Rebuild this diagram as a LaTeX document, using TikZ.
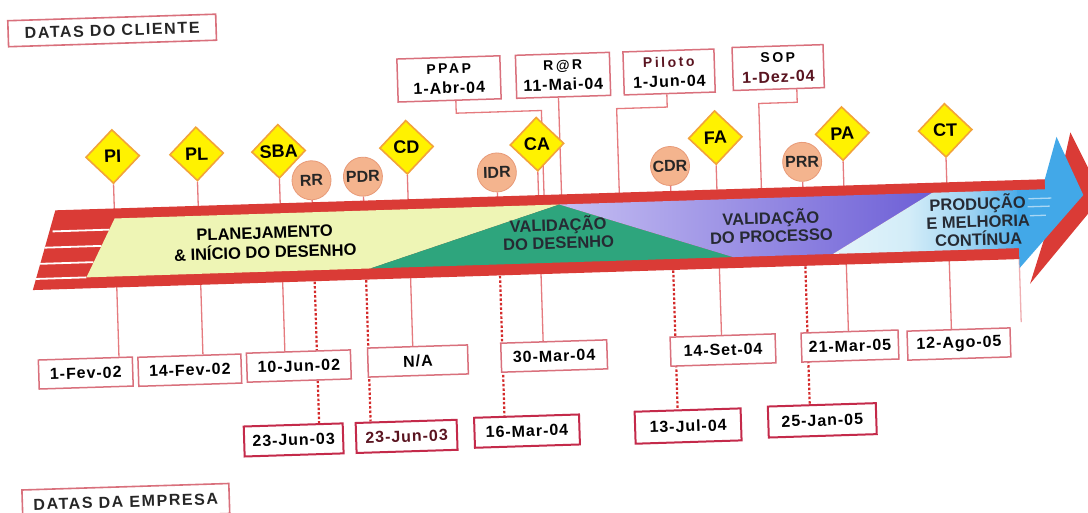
\documentclass[tikz,border=0pt]{standalone}
\usepackage{fontspec}
\setmainfont{Liberation Sans}
\newfontfamily\dfont{Liberation Sans}[LetterSpace=6]
\newfontfamily\lfont{Liberation Sans}[LetterSpace=18]
\newfontfamily\hfont{Liberation Sans}[LetterSpace=10]
\usetikzlibrary{shapes.geometric,calc}
\pgfdeclarelayer{bgl}
\pgfdeclarelayer{back}
\pgfsetlayers{bgl,back,main}
\definecolor{arred}{HTML}{DA3B36}
\definecolor{yel}{HTML}{EEF5B5}
\definecolor{grn}{HTML}{2EA57D}
\definecolor{lav}{HTML}{C5BEF2}
\definecolor{vio}{HTML}{6D5FD6}
\definecolor{pale}{HTML}{E3F4FA}
\definecolor{sky}{HTML}{42A8E8}
\colorlet{prodA}{pale!90!sky}
\colorlet{prodB}{pale!55!sky}
\definecolor{diafill}{HTML}{FFF200}
\definecolor{diaedge}{HTML}{F2A33A}
\definecolor{circfill}{HTML}{F4B48E}
\definecolor{circedge}{HTML}{E89A78}
\definecolor{stemc}{HTML}{E57A7E}
\definecolor{dotc}{HTML}{D42A2A}
\definecolor{boxa}{HTML}{D9707C}
\definecolor{boxb}{HTML}{C42A4A}
\definecolor{phase}{HTML}{262A33}
\definecolor{maroon}{HTML}{5A1420}
\pgfdeclarehorizontalshading{prodsh}{100bp}{color(0bp)=(pale); color(25bp)=(pale); color(45bp)=(prodA); color(62bp)=(prodB); color(75bp)=(sky); color(100bp)=(sky)}
\begin{document}
\begin{tikzpicture}[x=1pt,y=-1pt,
  stem/.style={draw=stemc,line width=1.3pt},
  dots/.style={draw=dotc,line width=2.2pt,dash pattern=on 2.5pt off 2pt},
  dia/.style={diamond,draw=diaedge,fill=diafill,line width=1.6pt,minimum width=54pt,minimum height=54pt,inner sep=0pt,font=\bfseries\fontsize{18}{18}\selectfont},
  circ/.style={circle,draw=circedge,fill=circfill,line width=0.8pt,minimum size=39pt,inner sep=0pt,font=\bfseries\fontsize{16}{16}\selectfont,text=black!85},
  rowa/.style={draw=boxa,line width=1.5pt,fill=white,minimum height=29pt,inner sep=0pt,font=\dfont\bfseries\fontsize{16}{16}\selectfont},
  rowb/.style={draw=boxb,line width=2pt,fill=white,minimum height=30pt,inner sep=0pt,font=\dfont\bfseries\fontsize{16}{16}\selectfont},
  topbox/.style={draw=boxa,line width=1.5pt,fill=white,minimum height=43pt,inner sep=0pt,align=center,font=\dfont\bfseries\fontsize{16}{20}\selectfont},
  hdr/.style={draw=boxa,line width=1.6pt,fill=white,minimum height=26pt,minimum width=208pt,inner sep=0pt,font=\hfont\bfseries\fontsize{16}{16}\selectfont,text=black!85},
  phasetxt/.style={align=center,font=\bfseries\fontsize{16.5}{18}\selectfont,text=phase}]
\useasboundingbox (0,0) rectangle (1088,512);
\begin{pgfonlayer}{bgl}\fill[white] (0,0) rectangle (1088,512);\end{pgfonlayer}
\begin{scope}[rotate around={1.8:(544,256)},transform shape]
% ---- arrow ----
\fill[arred] (1062,196) -- (1074,149) -- (1104,214) -- (1029,299) -- (1044,256) -- cycle;
\fill[arred] (57,195) -- (1047,195) -- (1047,206) -- (1022,206) -- (1022,274) -- (32,274) -- cycle;
\fill[yel] (116,205) -- (561,205) -- (370,263) -- (86,263) -- cycle;
\fill[grn] (561,205) -- (733,263) -- (370,263) -- cycle;
\shade[left color=lav,right color=vio] (561,205) -- (934,205) -- (833,263) -- (733,263) -- cycle;
\shade[shading=prodsh] (934,205) -- (1022,205) -- (1022,263) -- (833,263) -- cycle;
\fill[sky] (1019,205) -- (1047,205) -- (1047,195) -- (1060,153) -- (1085,212) -- (1019,283) -- cycle;
\draw[white,line width=1.8pt] (53.5,216) -- (110.2,216) (45.1,232) -- (101.8,232) (40,248) -- (93.4,248) (35.2,263) -- (86,263);
\draw[white,opacity=.55,line width=1.3pt] (1030,214) -- (1053,214) (1029,222) -- (1051,222) (1031,231) -- (1047,231);
% ---- phase texts ----
\node[phasetxt,text=black,font=\bfseries\fontsize{16.5}{19.5}\selectfont] (plan) at (265.5,234) {PLANEJAMENTO\\\& INÍCIO DO DESENHO};
\node[phasetxt] (vdes) at (559,233) {VALIDAÇÃO\\DO DESENHO};
\node[phasetxt] (vproc) at (772,233) {VALIDAÇÃO\\DO PROCESSO};
\node[phasetxt] (prod) at (979,234) {PRODUÇÃO\\E MELHORIA\\CONTÍNUA};
% ---- headers ----
\node[hdr] (cli) at (119.4,17) {DATAS DO CLIENTE};
\node[hdr,minimum width=207pt,minimum height=30pt] (emp) at (118.3,488.5) {DATAS DA EMPRESA};
% ---- top boxes ----
\node[topbox,minimum width=103pt] (ppap) at (454.6,76) {{\lfont\fontsize{14}{20}\selectfont PPAP}\\1-Abr-04};
\node[topbox,minimum width=94pt] (rar) at (568.7,76) {{\lfont\fontsize{14}{20}\selectfont R@R}\\11-Mai-04};
\node[topbox,minimum width=91pt] (pil) at (674.8,76) {{\lfont\fontsize{14}{20}\selectfont\color{maroon}Piloto}\\1-Jun-04};
\node[topbox,minimum width=91pt] (sop) at (784,75) {{\lfont\fontsize{14}{20}\selectfont SOP}\\{\color{maroon}1-Dez-04}};
% ---- diamonds ----
\node[dia] (pi) at (116,143) {PI};
\node[dia] (pl) at (200,143) {PL};
\node[dia] (sba) at (282,143) {SBA};
\node[dia] (cd) at (410,143) {CD};
\node[dia] (ca) at (540.5,144) {CA};
\node[dia] (fa) at (719,143) {FA};
\node[dia] (pa) at (846,143) {PA};
\node[dia] (ct) at (949,143) {CT};
% ---- circles ----
\node[circ] (rr) at (314,173) {RR};
\node[circ] (pdr) at (365.5,171) {PDR};
\node[circ] (idr) at (499.5,171) {IDR};
\node[circ] (cdr) at (672.8,170) {CDR};
\node[circ] (prr) at (805,170) {PRR};
% ---- row 1 ----
\node[rowa,minimum width=94pt] (fev1) at (82.3,358.6) {1-Fev-02};
\node[rowa,minimum width=103pt] (fev14) at (186.4,359) {14-Fev-02};
\node[rowa,minimum width=104pt] (jun10) at (295.5,358.3) {10-Jun-02};
\node[rowa,minimum width=100pt] (na) at (414.7,357) {N/A};
\node[rowa,minimum width=106pt] (mar30) at (551,356.3) {30-Mar-04};
\node[rowa,minimum width=105pt] (set14) at (720,355.6) {14-Set-04};
\node[rowa,minimum width=97pt] (mar21) at (847,355.6) {21-Mar-05};
\node[rowa,minimum width=103pt] (ago12) at (956,357) {12-Ago-05};
% ---- row 2 ----
\node[rowb,minimum width=99pt] (jun23a) at (288,432) {23-Jun-03};
\node[rowb,minimum width=101pt] (jun23b) at (401,432) {\color{maroon}23-Jun-03};
\node[rowb,minimum width=105pt] (mar16) at (521.5,430.5) {16-Mar-04};
\node[rowb,minimum width=106pt,minimum height=32pt] (jul13) at (682.7,430.5) {13-Jul-04};
\node[rowb,minimum width=108pt,minimum height=31pt] (jan25) at (817,429) {25-Jan-05};
% ---- connectors (behind) ----
\begin{pgfonlayer}{back}
\coordinate (aT1) at (0,199); \coordinate (aT2) at (1088,199);
\coordinate (aB1) at (0,270); \coordinate (aB2) at (1088,270);
\foreach \d/\b in {pi/fev1,pl/fev14,sba/jun10,cd/na,ca/mar30,fa/set14,pa/mar21,ct/ago12}
  \draw[stem] (\d.south) -- ($(\b.north west)!(\d.south)!(\b.north east)$);
\foreach \c/\b in {rr/jun23a,pdr/jun23b,idr/mar16,cdr/jul13,prr/jan25}{
  \draw[stem] (\c.south) -- ($(aT1)!(\c.south)!(aT2)$);
  \draw[dots] ($(aB1)!(\c.south)!(aB2)$) -- ($(\b.north west)!(\c.south)!(\b.north east)$);
}
\coordinate (ppapK) at (460.8,110.5); \coordinate (ppapC) at (546,110.5); \coordinate (ppapE) at (546,200);
\draw[stem] ($(ppap.south west)!(ppapK)!(ppap.south east)$) -- (ppapK) -- (ppapC) -- (ppapE);
\coordinate (rarE) at (563.5,200);
\draw[stem] ($(rar.south west)!(rarE)!(rar.south east)$) -- (rarE);
\coordinate (pilK) at (671.9,111); \coordinate (pilC) at (621.3,111); \coordinate (pilE) at (621.3,200);
\draw[stem] ($(pil.south west)!(pilK)!(pil.south east)$) -- (pilK) -- (pilC) -- (pilE);
\coordinate (sopK) at (802,110.3); \coordinate (sopC) at (763.5,110.3); \coordinate (sopE) at (763.5,200);
\draw[stem] ($(sop.south west)!(sopK)!(sop.south east)$) -- (sopK) -- (sopC) -- (sopE);
\coordinate (tailA) at (1019,268); \coordinate (tailB) at (1019,337);
\draw[stem,draw=stemc!60] (tailA) -- (tailB);
\end{pgfonlayer}
\end{scope}
\end{tikzpicture}
\end{document}
